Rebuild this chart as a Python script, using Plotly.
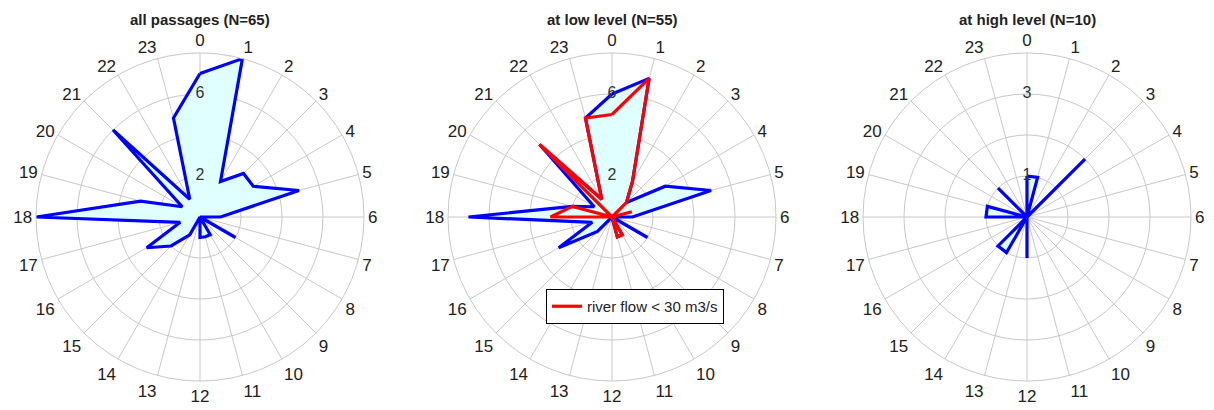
import plotly.graph_objects as go

# Passage counts per hour of day (0..23)
hours = list(range(24))
hour_labels = [str(h) for h in hours]
all_passages = [7, 8, 2, 3, 3, 5, 1, 0, 2, 0, 1, 1, 1, 0, 1, 2, 3, 1, 8, 3, 1, 6, 1, 5]
low_level = [6, 7, 2, 1, 3, 5, 1, 0, 2, 0, 1, 1, 0, 0, 0, 1, 3, 1, 7, 2, 1, 5, 1, 5]
low_flow = [5, 7, 2, 1, 0, 1, 0, 0, 0, 0, 1, 1, 0, 0, 0, 0, 0, 0, 3, 2, 0, 5, 1, 5]
high_level = [1, 1, 0, 2, 0, 0, 0, 0, 0, 0, 0, 0, 1, 0, 1, 1, 0, 0, 1, 1, 0, 1, 0, 0]

titles = ["all passages (N=65)", "at low level (N=55)", "at high level (N=10)"]
radial_max = [8, 8, 4]
ring_vals = [[2, 4, 6, 8], [2, 4, 6, 8], [1, 2, 3, 4]]
ring_labels = [[2, 6], [2, 6], [1, 3]]
legend_text = "river flow < 30 m3/s"

W, H = 1214, 410
centers_x = [200, 612, 1027]
center_y = 217
R = 164

BLUE = "#0000FF"
RED = "#FF0000"
FILL = "#E0FFFF"
GRID = "#C8C8C8"
FONT = "Liberation Sans, Arial, sans-serif"

theta = [h * 15 for h in hours]


def closed(vals):
    return list(vals) + [vals[0]], theta + [theta[0]]


fig = go.Figure()
series_sets = [
    [(all_passages, BLUE, True, None)],
    [(low_level, BLUE, True, None), (low_flow, RED, False, legend_text)],
    [(high_level, BLUE, True, None)],
]

for i in range(3):
    pname = "polar" if i == 0 else f"polar{i + 1}"
    for vals, color, filled, name in series_sets[i]:
        r, th = closed(vals)
        fig.add_trace(go.Scatterpolar(
            r=r, theta=th, mode="lines",
            line=dict(color=color, width=3.2),
            fill="toself" if filled else "none",
            fillcolor=FILL,
            name=name if name else "",
            showlegend=name is not None,
            subplot=pname,
        ))
    # radial value labels along the 0h spoke, drawn above the data
    fig.add_trace(go.Scatterpolar(
        r=ring_labels[i], theta=[0] * len(ring_labels[i]),
        text=[str(v) for v in ring_labels[i]], mode="text",
        textfont=dict(size=16, color="#333333", family=FONT),
        showlegend=False, hoverinfo="skip", subplot=pname,
    ))

    cx = centers_x[i]
    dom_x = [(cx - R) / W, (cx + R) / W]
    dom_y = [(H - center_y - R) / H, (H - center_y + R) / H]
    fig.update_layout(**{pname: dict(
        domain=dict(x=dom_x, y=dom_y),
        bgcolor="white",
        radialaxis=dict(
            range=[0, radial_max[i]], tickmode="array", tickvals=ring_vals[i],
            showticklabels=False, ticks="", showline=False,
            gridcolor=GRID, gridwidth=1,
        ),
        angularaxis=dict(
            rotation=90, direction="clockwise", tickmode="array",
            tickvals=theta, ticktext=hour_labels, ticks="",
            showline=True, linecolor=GRID, linewidth=1,
            gridcolor=GRID, gridwidth=1,
            tickfont=dict(size=17, color="#222222", family=FONT),
        ),
    )})
    fig.add_annotation(
        x=cx / W, y=1 - 19 / H, xref="paper", yref="paper",
        text=f"<b>{titles[i]}</b>", showarrow=False,
        font=dict(size=15, color="#222222", family=FONT),
        xanchor="center", yanchor="middle",
    )

fig.update_layout(
    width=W, height=H,
    margin=dict(l=0, r=0, t=0, b=0),
    paper_bgcolor="white",
    showlegend=True,
    legend=dict(
        x=546 / W, y=1 - 289 / H, xanchor="left", yanchor="top",
        bordercolor="black", borderwidth=1, bgcolor="white",
        font=dict(size=15, color="#222222", family=FONT),
    ),
)

fig.write_html("out.html")
